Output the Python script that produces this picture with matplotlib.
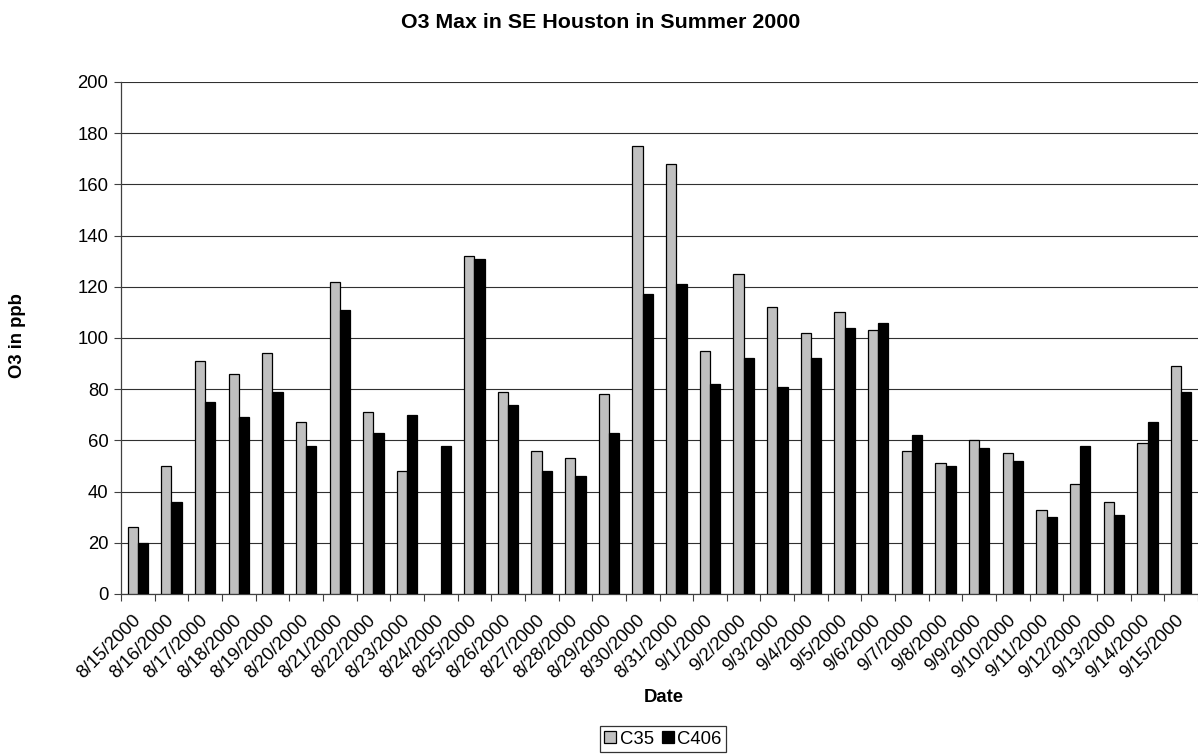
import numpy as np
import matplotlib
matplotlib.use("Agg")
import matplotlib.pyplot as plt

plt.rcParams['font.family'] = ['Liberation Sans', 'DejaVu Sans']

dates = ["8/15/2000", "8/16/2000", "8/17/2000", "8/18/2000", "8/19/2000",
         "8/20/2000", "8/21/2000", "8/22/2000", "8/23/2000", "8/24/2000",
         "8/25/2000", "8/26/2000", "8/27/2000", "8/28/2000", "8/29/2000",
         "8/30/2000", "8/31/2000", "9/1/2000", "9/2/2000", "9/3/2000",
         "9/4/2000", "9/5/2000", "9/6/2000", "9/7/2000", "9/8/2000",
         "9/9/2000", "9/10/2000", "9/11/2000", "9/12/2000", "9/13/2000",
         "9/14/2000", "9/15/2000"]
c35 = [26, 50, 91, 86, 94, 67, 122, 71, 48, np.nan, 132, 79, 56, 53, 78,
       175, 168, 95, 125, 112, 102, 110, 103, 56, 51, 60, 55, 33, 43, 36,
       59, 89]
c406 = [20, 36, 75, 69, 79, 58, 111, 63, 70, 58, 131, 74, 48, 46, 63,
        117, 121, 82, 92, 81, 92, 104, 106, 62, 50, 57, 52, 30, 58, 31,
        67, 79]

W, H = 1198, 755
fig = plt.figure(figsize=(W / 100, H / 100), dpi=100)
ax = fig.add_axes([121 / W, 1 - 594 / H, 1 - 121 / W, (594 - 82) / H])

x = np.arange(len(dates))
bw = 0.304
ax.bar(x - bw / 2, c35, bw, color='#c0c0c0', edgecolor='black',
       linewidth=0.9, label='C35', zorder=3)
ax.bar(x + bw / 2, c406, bw, color='black', edgecolor='black',
       linewidth=0.9, label='C406', zorder=3)

ax.set_ylim(0, 200)
ax.set_yticks(np.arange(0, 201, 20))
# plot area runs past the right edge of the picture, as in the original
ax.set_xlim(-0.5, -0.5 + (W - 121) / 33.94)
ax.yaxis.grid(True, color='#303030', linewidth=0.8, zorder=0)
ax.set_axisbelow(True)

for s in ['top', 'right']:
    ax.spines[s].set_visible(False)
for s in ['left', 'bottom']:
    ax.spines[s].set_color('#404040')
    ax.spines[s].set_linewidth(0.9)

ax.tick_params(axis='y', length=5, width=0.8, color='#404040',
               labelsize=13.3, pad=4)
ax.set_xticks(x)
ax.set_xticklabels(dates, rotation=45, ha='right', va='center',
                   rotation_mode='anchor', fontsize=13.3)
ax.tick_params(axis='x', which='major', length=0, pad=17)
ax.set_xticks(np.arange(len(dates) + 1) - 0.5, minor=True)
ax.tick_params(axis='x', which='minor', length=5, width=0.8, color='#404040')

fig.text(601 / W, 1 - 23 / H, "O3 Max in SE Houston in Summer 2000",
         ha='center', va='center', fontsize=15.4, fontweight='bold')
fig.text(18 / W, 1 - 336 / H, "O3 in ppb", rotation=90, ha='center',
         va='center', fontsize=13.3, fontweight='bold')
fig.text(664 / W, 1 - 697 / H, "Date", ha='center', va='center',
         fontsize=13.3, fontweight='bold')

leg = fig.legend(loc='center', bbox_to_anchor=(663 / W, 1 - 739 / H),
                 ncol=2, fontsize=13.3, frameon=True, fancybox=False,
                 edgecolor='black', handlelength=0.65, handleheight=0.65,
                 handletextpad=0.2, columnspacing=0.4, borderpad=0.25,
                 borderaxespad=0)
leg.get_frame().set_linewidth(0.9)

fig.savefig("out.png", dpi=100)
